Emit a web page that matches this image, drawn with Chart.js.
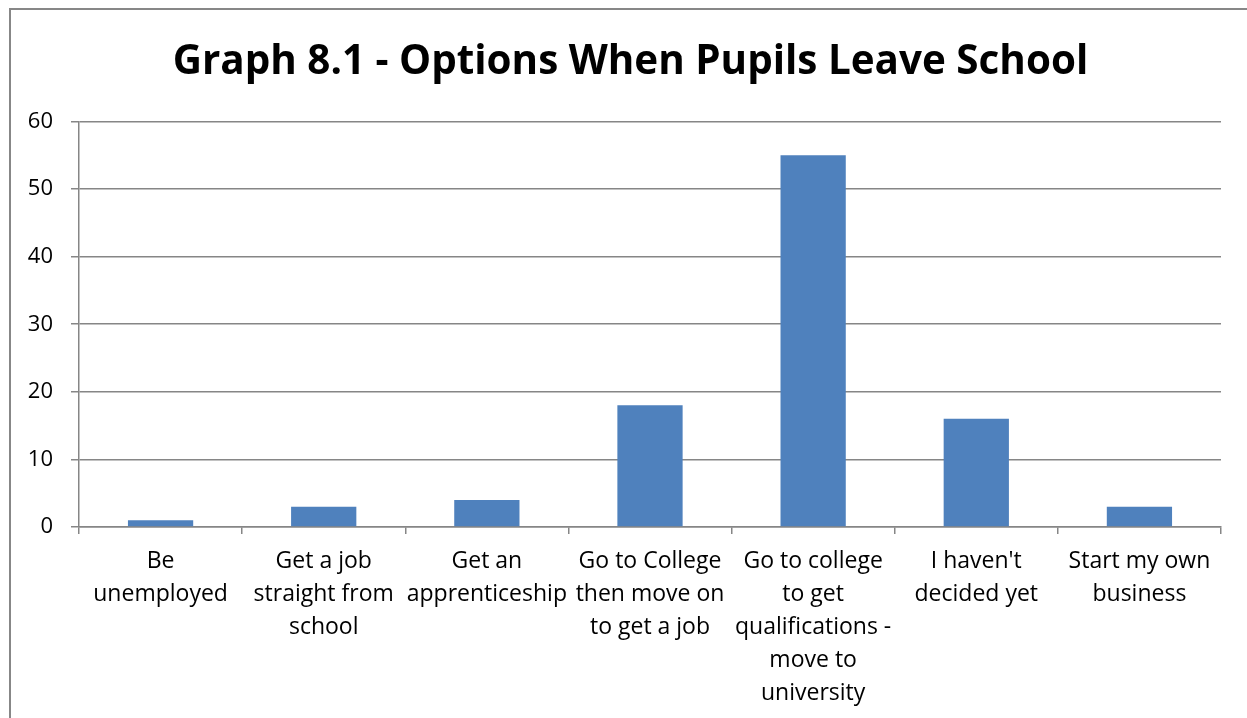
<!DOCTYPE html>
<html lang="en">
<head>
    <meta charset="UTF-8">
    <title>Graph 8.1</title>
    <script src="https://cdn.jsdelivr.net/npm/chart.js"></script>
    <style>
        html, body { margin: 0; padding: 0; background: #fff; overflow: hidden; }
        .frame {
            position: absolute; left: 9px; top: 8px; width: 1400px; height: 900px;
            border-left: 2px solid #878787; border-top: 2px solid #878787;
        }
        #chart { position: absolute; left: 14px; top: 0; }
    </style>
</head>
<body>
    <div class="frame"></div>
    <canvas id="chart" width="1233" height="718"></canvas>

<script>
    // data
    const categories = [
        ['Be', 'unemployed'],
        ['Get a job', 'straight from', 'school'],
        ['Get an', 'apprenticeship'],
        ['Go to College', 'then move on', 'to get a job'],
        ['Go to college', 'to get', 'qualifications -', 'move to', 'university'],
        ["I haven't", 'decided yet'],
        ['Start my own', 'business']
    ];
    const pupils = [1, 3, 4, 18, 55, 16, 3];
    const yTicks = [0, 10, 20, 30, 40, 50, 60];
    const titleText = 'Graph 8.1 - Options When Pupils Leave School';

    const gridGrey = '#868686';
    const fontFamily = "'Open Sans', 'Liberation Sans', sans-serif";

    const ctx = document.getElementById('chart').getContext('2d');
    new Chart(ctx, {
        type: 'bar',
        data: {
            labels: categories,
            datasets: [{
                data: pupils,
                backgroundColor: '#4F81BD',
                barPercentage: 0.4,
                categoryPercentage: 1.0
            }]
        },
        options: {
            responsive: false,
            animation: false,
            layout: { padding: 0 },
            plugins: {
                legend: { display: false },
                tooltip: { enabled: false },
                title: {
                    display: true,
                    text: titleText,
                    color: '#000',
                    font: { family: fontFamily, size: 40.4, weight: 'bold', lineHeight: 1.2 },
                    padding: { top: 38, bottom: 35 }
                }
            },
            scales: {
                x: {
                    grid: {
                        offset: true,
                        drawOnChartArea: false,
                        drawTicks: true,
                        tickLength: 7,
                        color: gridGrey,
                        lineWidth: 1.5
                    },
                    border: { display: true, color: gridGrey, width: 1.5 },
                    ticks: {
                        color: '#000',
                        maxRotation: 0,
                        autoSkip: false,
                        padding: 11,
                        font: { family: fontFamily, size: 23, lineHeight: 1.43 }
                    },
                    afterFit: function(scale) { scale.height = 191; }
                },
                y: {
                    min: 0,
                    max: 60,
                    afterBuildTicks: function(scale) {
                        scale.ticks = yTicks.map(v => ({ value: v }));
                    },
                    grid: {
                        color: gridGrey,
                        lineWidth: 1.5,
                        tickLength: 8
                    },
                    border: { display: true, color: gridGrey, width: 1.5 },
                    ticks: {
                        color: '#000',
                        padding: 18,
                        font: { family: fontFamily, size: 22 }
                    },
                    afterFit: function(scale) { scale.width = 65; }
                },
                // empty strip on the right so the title sits where it does in the picture
                yRight: {
                    type: 'linear',
                    position: 'right',
                    grid: { display: false },
                    border: { display: false },
                    ticks: { display: false },
                    afterFit: function(scale) { scale.width = 26; }
                }
            }
        }
    });
</script>
</body>
</html>
